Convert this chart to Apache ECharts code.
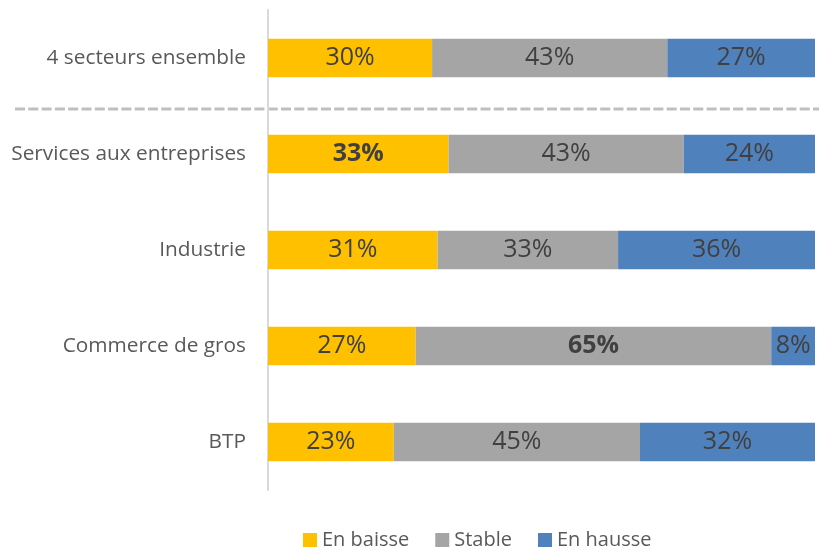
<!DOCTYPE html>
<html>
<head>
<meta charset="utf-8">
<script src="https://cdn.jsdelivr.net/npm/echarts@6/dist/echarts.min.js"></script>
<style>
  html, body { margin: 0; padding: 0; background: #fff; }
  #chart { width: 819px; height: 549px; }
</style>
</head>
<body>
<div id="chart"></div>
<script>
const categories = ['4 secteurs ensemble', 'Services aux entreprises', 'Industrie', 'Commerce de gros', 'BTP'];
const enBaisse = [30, 33, 31, 27, 23];
const stable = [43, 43, 33, 65, 45];
const enHausse = [27, 24, 36, 8, 32];
// valeurs mises en gras dans l'original
const boldBaisse = [false, true, false, false, false];
const boldStable = [false, false, false, true, false];

const font = '"Open Sans", sans-serif';

const chart = echarts.init(document.getElementById('chart'));

function mkSeries(name, values, color, bold) {
  return {
    name: name,
    type: 'bar',
    stack: 'total',
    barCategoryGap: '60%',
    itemStyle: { color: color },
    label: {
      show: true,
      position: 'inside',
      fontFamily: font,
      fontSize: 25,
      color: '#404040',
      formatter: function (p) { return p.value + '%'; }
    },
    data: values.map((v, i) => ({
      value: v,
      label: bold && bold[i] ? { fontWeight: 'bold' } : undefined
    }))
  };
}

const option = {
  backgroundColor: '#fff',
  animation: false,
  grid: { left: 268, right: 4, top: 10, bottom: 59 },
  legend: {
    left: 303,
    top: 530,
    padding: 0,
    itemWidth: 14,
    itemHeight: 14,
    itemGap: 26,
    icon: 'rect',
    textStyle: { fontFamily: font, fontSize: 20, color: '#595959' },
    data: ['En baisse', 'Stable', 'En hausse']
  },
  xAxis: {
    type: 'value',
    min: 0,
    max: 100,
    show: false
  },
  yAxis: {
    type: 'category',
    inverse: true,
    data: categories,
    axisLine: { lineStyle: { color: '#D9D9D9', width: 2 } },
    axisTick: { show: false },
    axisLabel: { margin: 22, fontFamily: font, fontSize: 20.8, color: '#595959' }
  },
  // ligne pointillée séparant l'ensemble des secteurs
  graphic: [{
    type: 'line',
    shape: { x1: 15, y1: 109, x2: 819, y2: 109 },
    style: { stroke: '#BFBFBF', lineWidth: 3, lineDash: [10, 3.3] }
  }],
  series: [
    mkSeries('En baisse', enBaisse, '#FFC000', boldBaisse),
    mkSeries('Stable', stable, '#A5A5A5', boldStable),
    mkSeries('En hausse', enHausse, '#4F81BD', null)
  ]
};

chart.setOption(option);
</script>
</body>
</html>
